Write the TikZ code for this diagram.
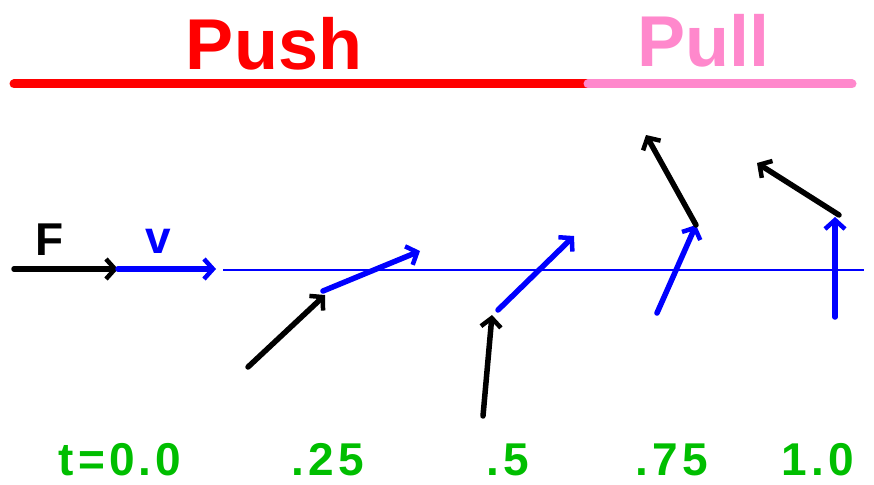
\documentclass[tikz,border=0pt]{standalone}
\usepackage{fontspec}
\setmainfont{Liberation Sans}
\usetikzlibrary{arrows.meta}
\definecolor{pushred}{RGB}{255,0,0}
\definecolor{pullpink}{RGB}{255,136,204}
\definecolor{vblue}{RGB}{0,0,255}
\definecolor{tgreen}{RGB}{0,190,0}
\begin{document}
\begin{tikzpicture}[x=1pt,y=-1pt,
  vec/.style={line width=5.5pt,line cap=round,-{Straight Barb[length=9pt,width=20pt,line width=4.5pt]}},
  fvec/.style={vec,black},
  vvec/.style={vec,vblue},
  bigtitle/.style={font=\bfseries\fontsize{72}{72}\selectfont,inner sep=0pt,anchor=base},
  letter/.style={font=\bfseries\fontsize{46}{46}\selectfont,inner sep=0pt,anchor=base},
  tlabel/.style={font=\bfseries\fontsize{46}{46}\selectfont\addfontfeature{LetterSpace=9},text=tgreen,inner sep=0pt,anchor=base}]
\useasboundingbox (0,0) rectangle (874,484);
% titles
\node[bigtitle,text=pushred] (push) at (274,70) {Push};
\node[bigtitle,text=pullpink] (pull) at (703,67) {Pull};
\coordinate (r1) at (14,84);
\coordinate (r2) at (588,84);
\coordinate (r3) at (852,84);
\draw[pushred,line width=9pt,line cap=round] (r1) -- (r2);
\draw[pullpink,line width=9pt,line cap=round] (r2) -- (r3);
% path line
\coordinate (l1) at (223,270);
\coordinate (l2) at (864,270);
\draw[vblue,line width=1.5pt] (l1) -- (l2);
% t = 0
\coordinate (f0a) at (14,269);
\coordinate (f0b) at (118,269);
\coordinate (v0b) at (216,269);
\draw[fvec] (f0a) -- (f0b);
\draw[vvec] (f0b) -- (v0b);
\node[letter,text=black] (F) at (50,255) {F};
\node[letter,text=vblue] (v) at (158,253) {v};
% t = .25
\coordinate (f1a) at (248,367);
\coordinate (f1b) at (325,295);
\coordinate (v1a) at (323,291);
\coordinate (v1b) at (420,251);
\draw[vvec] (v1a) -- (v1b);
\draw[fvec] (f1a) -- (f1b);
% t = .5
\coordinate (f2a) at (483,416);
\coordinate (f2b) at (492,315);
\coordinate (v2a) at (498,310);
\coordinate (v2b) at (574,236);
\draw[vvec] (v2a) -- (v2b);
\draw[fvec] (f2a) -- (f2b);
% t = .75
\coordinate (v3a) at (657,313);
\coordinate (v3b) at (696,225);
\coordinate (f3b) at (646,135);
\draw[vvec] (v3a) -- (v3b);
\draw[fvec] (v3b) -- (f3b);
% t = 1.0
\coordinate (v4a) at (835,317);
\coordinate (v4b) at (835,217);
\coordinate (f4a) at (839,215);
\coordinate (f4b) at (757,163);
\draw[vvec] (v4a) -- (v4b);
\draw[fvec] (f4a) -- (f4b);
% time labels
\node[tlabel] (t0) at (120,475) {t=0.0};
\node[tlabel] (t1) at (328,475) {.25};
\node[tlabel] (t2) at (508,475) {.5};
\node[tlabel] (t3) at (672,475) {.75};
\node[tlabel] (t4) at (818,475) {1.0};
\end{tikzpicture}
\end{document}
